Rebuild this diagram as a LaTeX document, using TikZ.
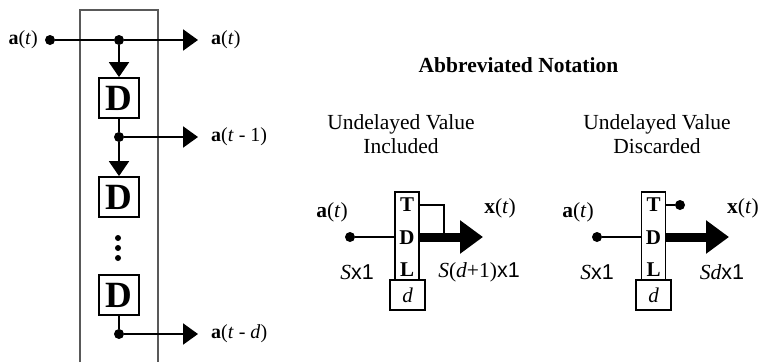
\documentclass[tikz,border=0pt]{standalone}
\usepackage{fontspec}
\setmainfont{Liberation Serif}
\newfontfamily\xsans{Liberation Sans}
\usetikzlibrary{arrows.meta}
\begin{document}
\begin{tikzpicture}[x=1pt,y=-1pt,
  dotn/.style={circle,fill=black,inner sep=0pt,minimum size=10pt},
  smalldot/.style={circle,fill=black,inner sep=0pt,minimum size=6pt},
  dbox/.style={draw,line width=1.8pt,minimum width=40pt,minimum height=40pt,inner sep=0pt,font=\fontsize{37}{37}\selectfont\bfseries},
  lbl/.style={inner sep=0pt,font=\fontsize{20}{24}\selectfont},
  rlbl/.style={inner sep=0pt,font=\fontsize{21.5}{24}\selectfont},
  hdr/.style={inner sep=0pt,align=center,font=\fontsize{21.5}{24.5}\selectfont},
  thinline/.style={line width=1.2pt},
  medline/.style={line width=2pt},
  harrow/.style={line width=2.2pt,-{Triangle[length=15pt,width=21pt]}},
  varrow/.style={line width=2pt,-{Triangle[length=15pt,width=20pt]}},
  bigarrow/.style={line width=9pt,-{Triangle[length=23pt,width=32pt]}},
  tdlbox/.style={draw,line width=1.2pt,minimum width=24pt,minimum height=88pt,inner sep=0pt},
  tdlletter/.style={inner sep=0pt,font=\fontsize{21}{21}\selectfont\bfseries},
  dsmall/.style={draw,line width=1.8pt,minimum width=35pt,minimum height=30pt,inner sep=0pt,font=\fontsize{21}{21}\selectfont\itshape},
  frame/.style={draw=black!65,line width=1.2pt}
]
\useasboundingbox (0,0) rectangle (759,362);

% ---------- left: tapped delay line ----------
\draw[frame] (80,362) -- (80,10) -- (158,10) -- (158,362);

\node[lbl,anchor=east] (ainlbl) at (38,40) {\textbf{a}(\textit{t})};
\node[dotn] (ain) at (50,40) {};
\node[dotn] (tap0) at (119,40) {};
\node[dbox] (D1) at (119,98) {D};
\node[dotn] (tap1) at (119,137) {};
\node[dbox] (D2) at (119,197) {D};
\node[smalldot] (e1) at (118,238) {};
\node[smalldot] (e2) at (118,248) {};
\node[smalldot] (e3) at (118,258) {};
\node[dbox] (D3) at (119,295) {D};
\node[dotn] (tap2) at (119,334) {};

\coordinate (k0) at (139,40);
\coordinate (k1) at (139,137);
\coordinate (k2) at (139,334);
\coordinate (o0) at (198,40);
\coordinate (o1) at (198,137);
\coordinate (o2) at (198,334);

\draw[thinline] (ain) -- (tap0);
\draw[thinline] (tap0) -- (k0);
\draw[harrow] (k0) -- (o0);
\draw[varrow] (tap0) -- (D1);
\draw[medline] (D1) -- (tap1);
\draw[thinline] (tap1) -- (k1);
\draw[harrow] (k1) -- (o1);
\draw[varrow] (tap1) -- (D2);
\draw[medline] (D3) -- (tap2);
\draw[thinline] (tap2) -- (k2);
\draw[harrow] (k2) -- (o2);

\node[lbl,anchor=west] (l0) at (211,40) {\textbf{a}(\textit{t})};
\node[lbl,anchor=west] (l1) at (211,137) {\textbf{a}(\textit{t} - 1)};
\node[lbl,anchor=west] (l2) at (211,334) {\textbf{a}(\textit{t} - \textit{d})};

% ---------- right: abbreviated notation ----------
\node[hdr,font=\fontsize{21.5}{24}\selectfont\bfseries] (title) at (518.5,65) {Abbreviated Notation};
\node[hdr] (hA) at (401,134) {Undelayed Value\\Included};
\node[hdr] (hB) at (657,134) {Undelayed Value\\Discarded};

% block A
\node[tdlbox] (tdlA) at (407,236) {};
\node[tdlletter] (tA) at (407,205) {T};
\node[tdlletter] (dA) at (407,238) {D};
\node[tdlletter] (lA) at (407,270) {L};
\node[dsmall] (ddA) at (407.5,295) {d};
\node[dotn] (inA) at (350,237) {};
\coordinate (bA) at (444,233);
\coordinate (oA) at (483,237);
\draw[thinline] (inA) -- (tdlA.west |- inA);
\draw[bigarrow] (tdlA.east |- inA) -- (oA);
\draw[line width=1.5pt] (tdlA.east |- tA) -| (bA);
\node[rlbl] (aA) at (332,212) {\textbf{a}(\textit{t})};
\node[rlbl] (xA) at (500,208) {\textbf{x}(\textit{t})};
\node[rlbl] (sA) at (357,272) {\textit{S}{\xsans x1}};
\node[rlbl] (sA2) at (479,272) {\textit{S}(\textit{d}+1){\xsans x1}};

% block B
\node[tdlbox] (tdlB) at (653.5,236) {};
\node[tdlletter] (tB) at (653.5,205) {T};
\node[tdlletter] (dB) at (653.5,238) {D};
\node[tdlletter] (lB) at (653.5,270) {L};
\node[dsmall] (ddB) at (653.5,295) {d};
\node[dotn] (inB) at (597,237) {};
\node[dotn] (tapB) at (680,205) {};
\coordinate (oB) at (729,237);
\draw[thinline] (inB) -- (tdlB.west |- inB);
\draw[bigarrow] (tdlB.east |- inB) -- (oB);
\draw[thinline] (tdlB.east |- tapB) -- (tapB);
\node[rlbl] (aB) at (578,212) {\textbf{a}(\textit{t})};
\node[rlbl,anchor=west] (xB) at (727,208) {\textbf{x}(\textit{t})};
\node[rlbl] (sB) at (597,272) {\textit{S}{\xsans x1}};
\node[rlbl] (sB2) at (722,272) {\textit{Sd}{\xsans x1}};
\end{tikzpicture}
\end{document}
